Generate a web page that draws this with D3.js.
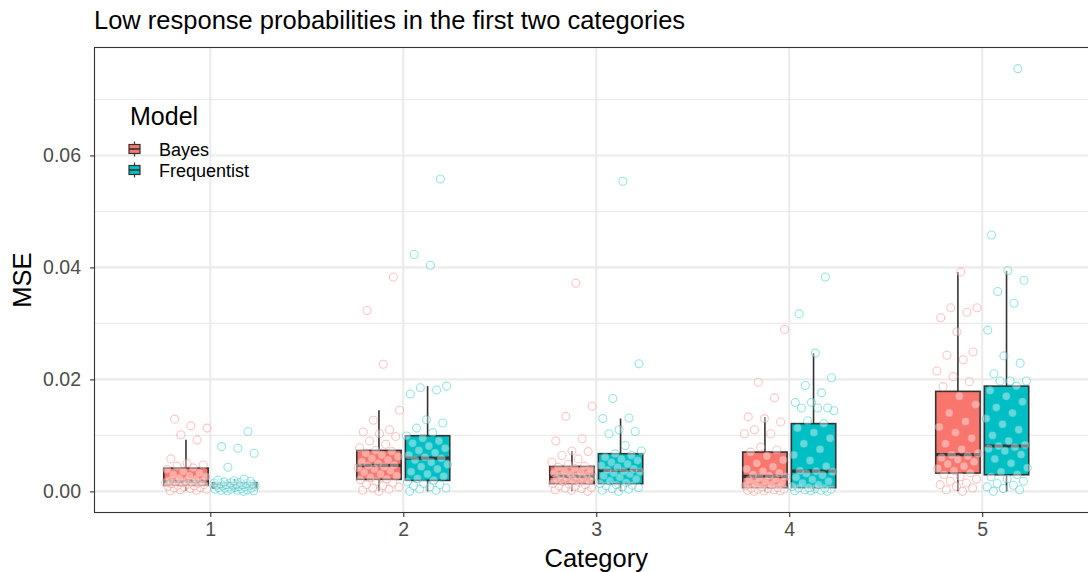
<!DOCTYPE html>
<html><head><meta charset="utf-8">
<script src="https://cdn.jsdelivr.net/npm/d3@7"></script>
<style>body{margin:0;background:#fff;} svg{display:block;font-family:"Liberation Sans",Arial,sans-serif;}</style>
</head><body>
<script>
const categories = [1, 2, 3, 4, 5];
const models = ["Bayes", "Frequentist"];
const yTicks = [0, 0.02, 0.04, 0.06];
const yMinorTicks = [0.01, 0.03, 0.05, 0.07];

// MSE values per category (jittered points)
const bayesValues = [
  [0.0001,0.0002,0.0003,0.0004,0.0005,0.0006,0.0007,0.0008,0.0009,0.0010,0.0011,0.0012,0.0013,0.0014,0.0015,0.0016,0.0016,0.0017,0.0018,0.0018,0.0019,0.0020,0.0022,0.0024,0.0026,0.0028,0.0030,0.0033,0.0036,0.0039,0.0042,0.0045,0.0047,0.0050,0.0058,0.0092,0.0101,0.0113,0.0117,0.0129],
  [0.0000,0.0002,0.0004,0.0006,0.0008,0.0010,0.0012,0.0015,0.0018,0.0021,0.0022,0.0025,0.0028,0.0031,0.0034,0.0037,0.0040,0.0042,0.0044,0.0046,0.0047,0.0050,0.0053,0.0056,0.0059,0.0062,0.0065,0.0068,0.0071,0.0073,0.0078,0.0084,0.0090,0.0098,0.0103,0.0106,0.0110,0.0127,0.0145,0.0227,0.0323,0.0383],
  [0.0000,0.0002,0.0003,0.0005,0.0006,0.0007,0.0009,0.0010,0.0012,0.0013,0.0014,0.0016,0.0018,0.0019,0.0021,0.0022,0.0024,0.0025,0.0026,0.0027,0.0028,0.0030,0.0031,0.0033,0.0035,0.0037,0.0039,0.0041,0.0043,0.0045,0.0048,0.0052,0.0058,0.0064,0.0071,0.0072,0.0090,0.0094,0.0134,0.0152,0.0372],
  [0.0000,0.0001,0.0001,0.0002,0.0003,0.0004,0.0004,0.0005,0.0006,0.0007,0.0008,0.0010,0.0012,0.0014,0.0016,0.0018,0.0020,0.0022,0.0024,0.0026,0.0028,0.0030,0.0033,0.0036,0.0040,0.0044,0.0050,0.0056,0.0063,0.0070,0.0074,0.0079,0.0103,0.0103,0.0110,0.0124,0.0130,0.0133,0.0167,0.0195,0.0289],
  [0.0000,0.0003,0.0006,0.0009,0.0012,0.0015,0.0018,0.0022,0.0026,0.0030,0.0033,0.0037,0.0041,0.0045,0.0049,0.0053,0.0057,0.0060,0.0063,0.0065,0.0068,0.0075,0.0085,0.0095,0.0105,0.0115,0.0125,0.0140,0.0155,0.0170,0.0187,0.0196,0.0205,0.0215,0.0235,0.0243,0.0249,0.0285,0.0310,0.0320,0.0328,0.0328,0.0392]
];
const freqValues = [
  [0.0000,0.0001,0.0001,0.0002,0.0002,0.0003,0.0004,0.0004,0.0005,0.0006,0.0006,0.0007,0.0007,0.0008,0.0008,0.0009,0.0009,0.0010,0.0010,0.0011,0.0011,0.0012,0.0012,0.0013,0.0013,0.0014,0.0014,0.0015,0.0015,0.0016,0.0017,0.0018,0.0019,0.0020,0.0022,0.0043,0.0068,0.0077,0.0080,0.0107],
  [0.0000,0.0002,0.0004,0.0006,0.0008,0.0010,0.0012,0.0014,0.0017,0.0020,0.0023,0.0027,0.0031,0.0035,0.0040,0.0044,0.0048,0.0052,0.0056,0.0059,0.0061,0.0065,0.0069,0.0073,0.0077,0.0081,0.0086,0.0090,0.0095,0.0099,0.0105,0.0113,0.0122,0.0128,0.0174,0.0181,0.0185,0.0188,0.0404,0.0423,0.0558],
  [0.0000,0.0002,0.0004,0.0005,0.0007,0.0008,0.0010,0.0011,0.0012,0.0014,0.0016,0.0019,0.0022,0.0025,0.0028,0.0031,0.0033,0.0035,0.0036,0.0038,0.0040,0.0043,0.0046,0.0049,0.0052,0.0055,0.0058,0.0061,0.0064,0.0067,0.0072,0.0082,0.0103,0.0107,0.0110,0.0130,0.0131,0.0166,0.0228,0.0554],
  [0.0000,0.0001,0.0001,0.0002,0.0003,0.0004,0.0005,0.0006,0.0006,0.0007,0.0009,0.0012,0.0015,0.0018,0.0021,0.0025,0.0029,0.0032,0.0035,0.0036,0.0037,0.0045,0.0055,0.0065,0.0075,0.0085,0.0095,0.0105,0.0113,0.0121,0.0126,0.0144,0.0149,0.0149,0.0149,0.0159,0.0159,0.0176,0.0189,0.0203,0.0247,0.0317,0.0383],
  [0.0000,0.0003,0.0005,0.0008,0.0011,0.0014,0.0018,0.0022,0.0026,0.0030,0.0035,0.0042,0.0050,0.0058,0.0066,0.0072,0.0076,0.0079,0.0081,0.0083,0.0090,0.0100,0.0110,0.0120,0.0130,0.0140,0.0150,0.0160,0.0170,0.0180,0.0188,0.0197,0.0197,0.0197,0.0210,0.0229,0.0242,0.0288,0.0336,0.0357,0.0377,0.0394,0.0458,0.0755]
];

// Box statistics per category: [whiskerLow, Q1, median, Q3, whiskerHigh]
const bayesBoxes = [
  [0.0001, 0.00107, 0.00179, 0.00416, 0.0092],
  [0.0000, 0.00214, 0.00464, 0.00732, 0.0145],
  [0.0000, 0.00137, 0.00268, 0.00446, 0.0072],
  [0.0000, 0.00065, 0.00268, 0.00702, 0.0133],
  [0.0000, 0.00327, 0.00655, 0.01786, 0.0392]
];
const freqBoxes = [
  [0.0000, 0.00060, 0.00110, 0.00155, 0.0022],
  [0.0000, 0.00196, 0.00595, 0.00994, 0.0188],
  [0.0000, 0.00137, 0.00375, 0.00673, 0.0130],
  [0.0000, 0.00065, 0.00363, 0.01210, 0.0247],
  [0.0000, 0.00297, 0.00810, 0.01880, 0.0394]
];

const colors = {Bayes: "#F8766D", Frequentist: "#00BFC4"};
const W = 1088, H = 572;
const panel = {left: 94.5, top: 47.5, right: 1098, bottom: 512.5};
const FONT = "Liberation Sans, Arial, sans-serif";

const svg = d3.select("body").append("svg").attr("width", W).attr("height", H);

const x = d3.scaleLinear().domain([0.4, 5.6]).range([panel.left, panel.right]);
const y = d3.scaleLinear().domain([-0.003775, 0.07928]).range([panel.bottom, panel.top]);

const dodge = 0.126, boxW = 0.23, jitterW = 0.22;

// grid
const g = svg.append("g");
g.selectAll(".minor").data(yMinorTicks).enter().append("line")
  .attr("x1", panel.left).attr("x2", panel.right)
  .attr("y1", d => y(d)).attr("y2", d => y(d))
  .attr("stroke", "#EBEBEB").attr("stroke-width", 1.1);
g.selectAll(".major").data(yTicks).enter().append("line")
  .attr("x1", panel.left).attr("x2", panel.right)
  .attr("y1", d => y(d)).attr("y2", d => y(d))
  .attr("stroke", "#EBEBEB").attr("stroke-width", 2.1);
g.selectAll(".vmajor").data(categories).enter().append("line")
  .attr("y1", panel.top).attr("y2", panel.bottom)
  .attr("x1", d => x(d)).attr("x2", d => x(d))
  .attr("stroke", "#EBEBEB").attr("stroke-width", 2.1);

// boxes
function drawBoxes(boxes, model, sign) {
  const col = colors[model];
  boxes.forEach((b, i) => {
    const cx = x(categories[i] + sign * dodge);
    const hw = (x(boxW) - x(0)) / 2;
    const bg = svg.append("g");
    bg.append("line").attr("x1", cx).attr("x2", cx).attr("y1", y(b[3])).attr("y2", y(b[4]))
      .attr("stroke", "#333333").attr("stroke-width", 1.6);
    bg.append("line").attr("x1", cx).attr("x2", cx).attr("y1", y(b[0])).attr("y2", y(b[1]))
      .attr("stroke", "#333333").attr("stroke-width", 1.6);
    bg.append("rect").attr("x", cx - hw).attr("width", 2 * hw)
      .attr("y", y(b[3])).attr("height", y(b[1]) - y(b[3]))
      .attr("fill", col).attr("stroke", "#333333").attr("stroke-width", 1.6);
    bg.append("line").attr("x1", cx - hw).attr("x2", cx + hw).attr("y1", y(b[2])).attr("y2", y(b[2]))
      .attr("stroke", "#333333").attr("stroke-width", 3.2);
  });
}
drawBoxes(bayesBoxes, "Bayes", -1);
drawBoxes(freqBoxes, "Frequentist", 1);

// jittered points (deterministic low-discrepancy jitter)
function drawPoints(vals, model, sign, seed) {
  const col = colors[model];
  vals.forEach((arr, i) => {
    const cx = categories[i] + sign * dodge;
    svg.append("g").selectAll("circle").data(arr).enter().append("circle")
      .attr("cx", (d, j) => x(cx + (((j * 0.618034 + seed + i * 0.37) % 1) - 0.5) * jitterW))
      .attr("cy", d => y(d))
      .attr("r", 4)
      .attr("fill", "#ffffff").attr("fill-opacity", 0.4)
      .attr("stroke", col).attr("stroke-opacity", 0.42).attr("stroke-width", 1.1);
  });
}
drawPoints(bayesValues, "Bayes", -1, 0.13);
drawPoints(freqValues, "Frequentist", 1, 0.71);

// panel border
svg.append("rect").attr("x", panel.left).attr("y", panel.top)
  .attr("width", panel.right - panel.left).attr("height", panel.bottom - panel.top)
  .attr("fill", "none").attr("stroke", "#333333").attr("stroke-width", 1.1);

// axes
const yAxis = d3.axisLeft(y).tickValues(yTicks).tickFormat(d3.format(".2f")).tickSize(4.5).tickPadding(9);
const ya = svg.append("g").attr("transform", `translate(${panel.left},0)`).call(yAxis);
const xAxis = d3.axisBottom(x).tickValues(categories).tickFormat(d3.format("d")).tickSize(4.5).tickPadding(5);
const xa = svg.append("g").attr("transform", `translate(0,${panel.bottom})`).call(xAxis);
[ya, xa].forEach(a => {
  a.select(".domain").remove();
  a.selectAll(".tick line").attr("stroke", "#333333").attr("stroke-width", 1.1);
  a.selectAll(".tick text").attr("fill", "#4D4D4D").style("font-size", "19.5px").style("font-family", FONT);
});

// titles
svg.append("text").attr("x", 94).attr("y", 29).text("Low response probabilities in the first two categories")
  .style("font-size", "25.5px").attr("fill", "#000");
svg.append("text").attr("transform", `translate(31,${(panel.top + panel.bottom) / 2}) rotate(-90)`)
  .attr("text-anchor", "middle").text("MSE").style("font-size", "25.5px");
svg.append("text").attr("x", x(3)).attr("y", 567).attr("text-anchor", "middle").text("Category")
  .style("font-size", "25.5px");

// legend
const lg = svg.append("g");
lg.append("text").attr("x", 130).attr("y", 125).text("Model").style("font-size", "25px");
models.forEach((m, i) => {
  const cy = 149 + i * 21;
  const cx = 134.5;
  lg.append("line").attr("x1", cx).attr("x2", cx).attr("y1", cy - 7.5).attr("y2", cy + 7.5)
    .attr("stroke", "#333333").attr("stroke-width", 1.2);
  lg.append("rect").attr("x", cx - 5.5).attr("y", cy - 4.5).attr("width", 11).attr("height", 9)
    .attr("fill", colors[m]).attr("stroke", "#333333").attr("stroke-width", 1.2);
  lg.append("line").attr("x1", cx - 5.5).attr("x2", cx + 5.5).attr("y1", cy).attr("y2", cy)
    .attr("stroke", "#333333").attr("stroke-width", 1.6);
  lg.append("text").attr("x", 159).attr("y", cy + 6.5).text(m).style("font-size", "18px");
});
</script>
</body></html>
